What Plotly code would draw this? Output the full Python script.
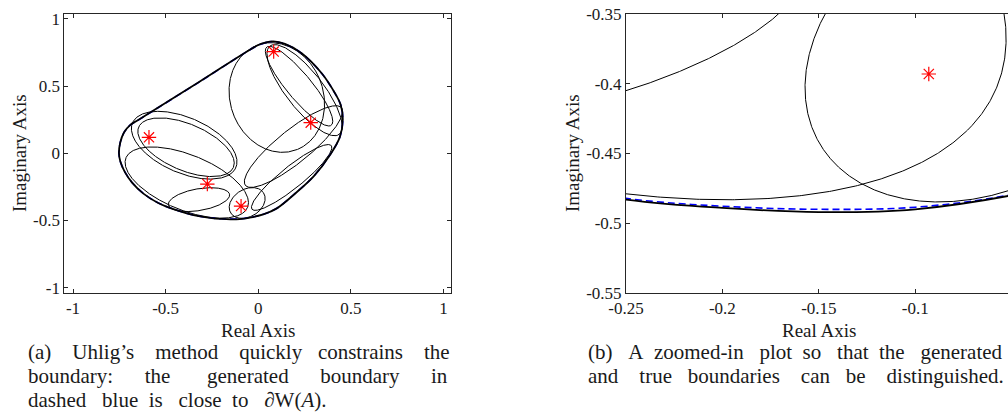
import numpy as np
import plotly.graph_objects as go

# eigenvalues of A
eig_re = [-0.590, -0.275, -0.093, 0.083, 0.283]
eig_im = [0.119, -0.229, -0.393, 0.757, 0.228]

# boundary of the field of values W(A)
bnd_re = [0.081, 0.040, 0.000, -0.324, -0.648, -0.692, -0.725, -0.745, -0.752, -0.745,
          -0.720, -0.680, -0.620, -0.540, -0.450, -0.350, -0.250, -0.200, -0.150, -0.100,
          -0.050, 0.027, 0.100, 0.207, 0.300, 0.387, 0.440, 0.456, 0.445, 0.414,
          0.342, 0.234, 0.144, 0.081]
bnd_im = [0.833, 0.825, 0.806, 0.527, 0.248, 0.210, 0.155, 0.080, 0.000, -0.060,
          -0.140, -0.220, -0.300, -0.370, -0.420, -0.460, -0.483, -0.489, -0.492, -0.490,
          -0.480, -0.455, -0.410, -0.290, -0.170, -0.013, 0.120, 0.250, 0.360, 0.447,
          0.596, 0.745, 0.814, 0.833]

# boundary generated by the method
gen_re = list(bnd_re)
gen_im = [0.832, 0.824, 0.805, 0.526, 0.247, 0.209, 0.154, 0.080, 0.000, -0.059,
          -0.139, -0.219, -0.299, -0.369, -0.419, -0.459, -0.4822, -0.4878, -0.4900, -0.4885,
          -0.4795, -0.454, -0.409, -0.289, -0.169, -0.012, 0.120, 0.249, 0.359, 0.446,
          0.595, 0.744, 0.813, 0.832]

# fields of values of 2x2 compressions: centre, semi-axes, tilt in degrees
ell_cx = [-0.400, -0.390, -0.386, -0.320, -0.060, 0.100, 0.250, 0.220, 0.190, 0.180]
ell_cy = [0.060, 0.045, -0.218, -0.345, -0.370, 0.415, 0.470, 0.500, 0.050, -0.180]
ell_a = [0.330, 0.300, 0.380, 0.170, 0.1225, 0.410, 0.380, 0.340, 0.390, 0.320]
ell_b = [0.190, 0.160, 0.192, 0.080, 0.0872, 0.255, 0.110, 0.075, 0.105, 0.070]
ell_tilt = [-38, -36, -33.9, 15, 60.1, 97, -62, -60, 49.5, 48.8]

x_ticks_a = [-1, -0.5, 0, 0.5, 1]
x_text_a = ["-1", "-0.5", "0", "0.5", "1"]
y_ticks_a = [-1, -0.5, 0, 0.5, 1]
y_text_a = ["-1", "-0.5", "0", "0.5", "1"]
x_ticks_b = [-0.25, -0.2, -0.15, -0.1, -0.05]
x_text_b = ["-0.25", "-0.2", "-0.15", "-0.1", "-0.05"]
y_ticks_b = [-0.55, -0.5, -0.45, -0.4, -0.35]
y_text_b = ["-0.55", "-0.5", "-0.45", "-0.4", "-0.35"]

SERIF = "Liberation Serif"
AX = "#262626"
INK = "#1a1a1a"

fig = go.Figure()
t = np.linspace(0, 2 * np.pi, 1441)

for xa, ya in (("x", "y"), ("x2", "y2")):
    for cx, cy, a, b, th in zip(ell_cx, ell_cy, ell_a, ell_b, ell_tilt):
        r = np.deg2rad(th)
        ex = cx + a * np.cos(t) * np.cos(r) - b * np.sin(t) * np.sin(r)
        ey = cy + a * np.cos(t) * np.sin(r) + b * np.sin(t) * np.cos(r)
        fig.add_trace(go.Scatter(x=ex, y=ey, mode="lines", xaxis=xa, yaxis=ya,
                                 line=dict(color="black", width=1), hoverinfo="skip"))
    fig.add_trace(go.Scatter(x=gen_re, y=gen_im, mode="lines", xaxis=xa, yaxis=ya,
                             line=dict(color="#0000ff", width=1.6, dash="7px,4px",
                                       shape="spline", smoothing=1.0)))
    fig.add_trace(go.Scatter(x=bnd_re, y=bnd_im, mode="lines", xaxis=xa, yaxis=ya,
                             line=dict(color="black", width=1.8, shape="spline", smoothing=1.0)))
    fig.add_trace(go.Scatter(x=eig_re, y=eig_im, mode="markers", xaxis=xa, yaxis=ya,
                             marker=dict(symbol="asterisk-open", size=12, color="#ff0000",
                                         line=dict(color="#ff0000", width=1.2))))

axis_common = dict(showgrid=False, zeroline=False, showline=True, linecolor=AX, linewidth=1,
                   ticks="inside", ticklen=4, tickcolor=AX, tickwidth=1, automargin=False,
                   tickfont=dict(family=SERIF, size=17, color=INK))

fig.update_layout(
    width=1008, height=415, margin=dict(l=0, r=0, t=0, b=0, autoexpand=False),
    paper_bgcolor="white", plot_bgcolor="white", showlegend=False,
    font=dict(family=SERIF, color=INK),
    xaxis=dict(domain=[0.0638, 0.4474], range=[-1.047, 1.040], mirror="ticks",
               tickmode="array", tickvals=x_ticks_a, ticktext=x_text_a, anchor="y",
               ticklabelstandoff=0, **axis_common),
    yaxis=dict(domain=[0.294, 0.9663], range=[-1.040, 1.037], mirror="ticks",
               tickmode="array", tickvals=y_ticks_a, ticktext=y_text_a, anchor="x", **axis_common),
    xaxis2=dict(domain=[0.6210, 1.0], range=[-0.25, -0.05194], mirror="ticks",
                tickmode="array", tickvals=x_ticks_b, ticktext=x_text_b, anchor="y2",
                ticklabelstandoff=0, **axis_common),
    yaxis2=dict(domain=[0.294, 0.9663], range=[-0.55, -0.35], mirror=False,
                tickmode="array", tickvals=y_ticks_b, ticktext=y_text_b, anchor="x2", **axis_common),
)

def note(text, x, y, size, xanchor="center", angle=0):
    fig.add_annotation(text=text, x=x, y=y, xref="paper", yref="paper", showarrow=False,
                       xanchor=xanchor, yanchor="middle", textangle=angle,
                       font=dict(family=SERIF, size=size, color=INK))

H = 415.0
W = 1008.0
note("Real Axis", 258 / W, 1 - 330 / H, 19)
note("Real Axis", 819 / W, 1 - 330 / H, 19)
note("Imaginary Axis", 19 / W, 1 - 153 / H, 19, angle=-90)
note("Imaginary Axis", 572 / W, 1 - 153 / H, 19, angle=-90)

def spaced(words, gaps):
    # caption lines are set flush to both margins, so the word gaps are widened
    out = words[0]
    for w, g in zip(words[1:], gaps):
        out += "\u00a0" * g + w
    return out

cap_a1 = spaced(["(a)", "Uhlig\u2019s", "method", "quickly", "constrains", "the"], [4, 4, 4, 3, 4])
cap_a2 = spaced(["boundary:", "the", "generated", "boundary", "in"], [6, 7, 6, 6])
cap_a3 = spaced(["dashed", "blue", "is", "close", "to", "\u2202W(<i>A</i>)."], [3, 2, 3, 2, 3])
cap_b1 = spaced(["(b)", "A", "zoomed-in", "plot", "so", "that", "the", "generated"], [3, 2, 3, 2, 3, 2, 3])
cap_b2 = spaced(["and", "true", "boundaries", "can", "be", "distinguished."], [4, 3, 4, 3, 4])

note(cap_a1, 26 / W, 1 - 352 / H, 21, "left")
note(cap_a2, 26 / W, 1 - 376 / H, 21, "left")
note(cap_a3, 26 / W, 1 - 400 / H, 21, "left")
note(cap_b1, 586 / W, 1 - 352 / H, 21, "left")
note(cap_b2, 586 / W, 1 - 376 / H, 21, "left")

fig.write_html("out.html")
